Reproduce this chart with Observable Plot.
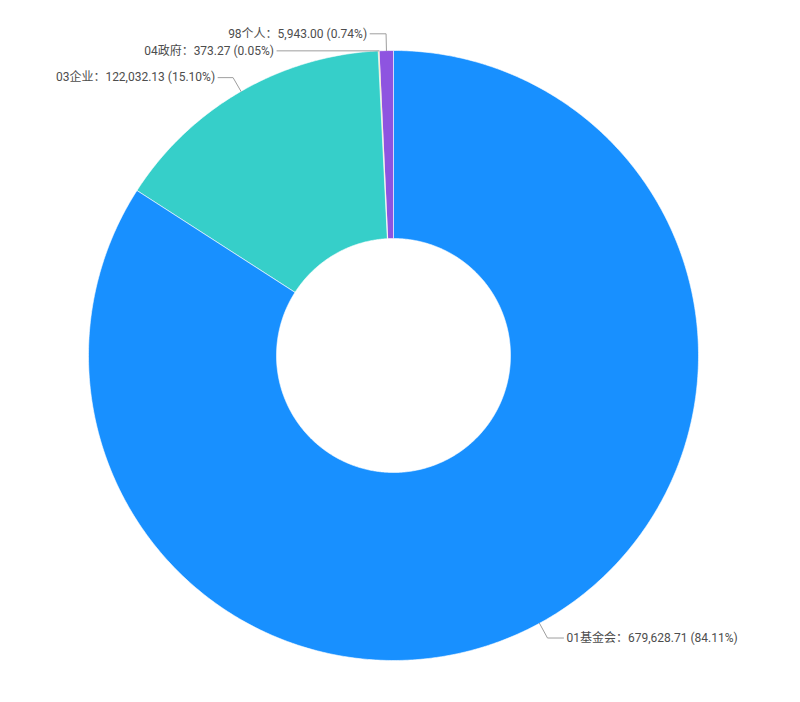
<!DOCTYPE html>
<html><head><meta charset="utf-8">
<script src="https://cdn.jsdelivr.net/npm/d3@7"></script>
<script src="https://cdn.jsdelivr.net/npm/@observablehq/plot@0.6"></script>
<style>body{margin:0;background:#fff}</style>
</head><body><div id="chart"></div>
<script>
// ---- data ----
const categories = ["01基金会", "03企业", "04政府", "98个人"];
const values = [679628.71, 122032.13, 373.27, 5943.00];
const colors = ["#1890FF", "#36CFC9", "#F5A623", "#8E54E0"];
// label leader layout (elbow radius factor, horizontal length in px)
const elbowFactor = [1.055, 1.052, 1.0, 1.055];
const hLength = [16, 15, 102, 16];

// ---- layout ----
const W = 800, H = 702, cx = 393, cy = 355, R = 305, innerR = 117 / 305;
const total = d3.sum(values);
const pie = d3.pie().sort(null).value(d => d)(values);

const slicePts = [];
pie.forEach((p, i) => {
  const a0 = p.startAngle, a1 = p.endAngle;
  const n = Math.max(2, Math.ceil((a1 - a0) / (Math.PI / 360)));
  for (let k = 0; k <= n; k++) {
    const a = a0 + (a1 - a0) * k / n;
    slicePts.push({cat: categories[i], x: Math.sin(a), y: Math.cos(a)});
  }
  for (let k = n; k >= 0; k--) {
    const a = a0 + (a1 - a0) * k / n;
    slicePts.push({cat: categories[i], x: innerR * Math.sin(a), y: innerR * Math.cos(a)});
  }
});

const leaderPts = [], labels = [];
pie.forEach((p, i) => {
  const a = (p.startAngle + p.endAngle) / 2;
  const sx = Math.sin(a), sy = Math.cos(a);
  const ex = sx * elbowFactor[i], ey = sy * elbowFactor[i];
  const dir = sx < 0 ? -1 : 1;
  const fx = ex + dir * hLength[i] / R;
  leaderPts.push({id: i, x: sx, y: sy}, {id: i, x: ex, y: ey}, {id: i, x: fx, y: ey});
  const pct = (values[i] / total * 100).toFixed(2);
  labels.push({
    x: fx, y: ey, side: dir,
    text: `${categories[i]}：${d3.format(",.2f")(values[i])} (${pct}%)`
  });
});

const font = "Roboto, 'Noto Sans CJK SC', sans-serif";
const chart = Plot.plot({
  width: W, height: H,
  margin: 0,
  x: {domain: [-cx / R, (W - cx) / R], range: [0, W], axis: null},
  y: {domain: [cy / R, (cy - H) / R], range: [0, H], axis: null},
  color: {domain: categories, range: colors},
  marks: [
    Plot.line(slicePts, {x: "x", y: "y", z: "cat", fill: "cat", stroke: "#ffffff", strokeWidth: 0.6, curve: "linear-closed"}),
    Plot.line(leaderPts, {x: "x", y: "y", z: "id", stroke: "#9e9e9e", strokeWidth: 1}),
    Plot.text(labels.filter(d => d.side < 0), {x: "x", y: "y", text: "text", textAnchor: "end", dx: -3, fill: "#4d4d4d", fontSize: 12, fontFamily: font}),
    Plot.text(labels.filter(d => d.side > 0), {x: "x", y: "y", text: "text", textAnchor: "start", dx: 3, fill: "#4d4d4d", fontSize: 12, fontFamily: font})
  ]
});
document.getElementById("chart").append(chart);
</script>
</body></html>
